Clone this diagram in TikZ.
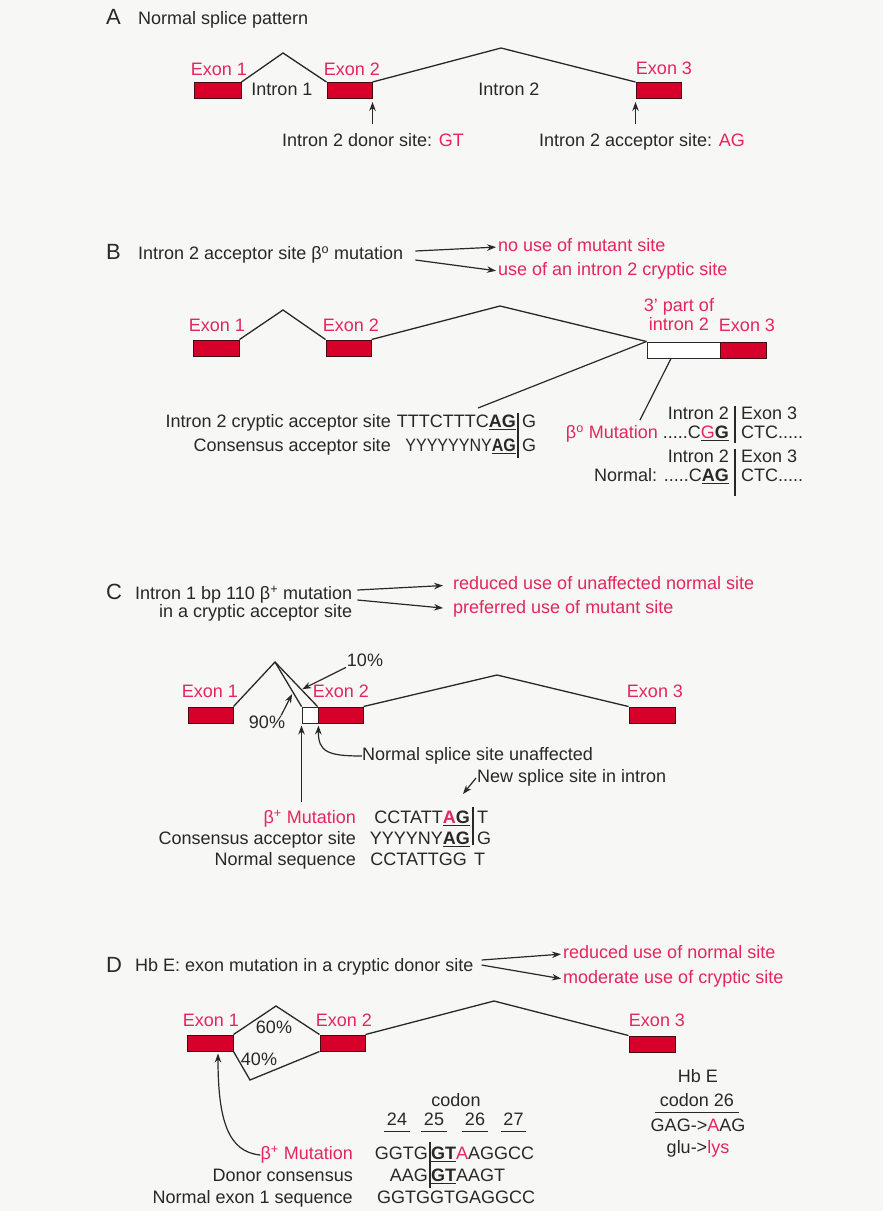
\documentclass[tikz,border=0pt]{standalone}
\usepackage{fontspec}
\usepackage{graphicx}
\setmainfont{Liberation Sans}
\usetikzlibrary{arrows.meta,calc}
\definecolor{ink}{RGB}{40,40,40}
\definecolor{hl}{RGB}{228,38,92}
\definecolor{exonfill}{RGB}{214,0,42}
\definecolor{exonedge}{RGB}{70,10,20}
\definecolor{paper}{RGB}{247,247,245}
\tikzset{
  txt/.style={inner sep=0pt, text height=13pt, text depth=4pt, text=ink, font=\fontsize{18}{20}\selectfont},
  hltxt/.style={txt, text=hl},
  panel/.style={txt, font=\fontsize{22}{24}\selectfont, anchor=west},
  exon/.style={draw=exonedge, fill=exonfill, line width=1pt, minimum height=16pt, minimum width=46pt, inner sep=0pt},
  openbox/.style={draw=ink, fill=white, line width=1pt, minimum height=16pt, inner sep=0pt},
  intron/.style={draw=ink, line width=1.3pt},
  arr/.style={draw=ink, line width=1.2pt, -{Stealth[length=9pt,width=6.5pt]}},
  bar/.style={draw=ink, line width=1.2pt},
}
\begin{document}
\begin{tikzpicture}[x=1pt,y=-1pt]
\fill[paper] (0,0) rectangle (883,1211);
\useasboundingbox (0,0) rectangle (883,1211);

% ---------- A: normal splice pattern
\node[panel] (lA) at (106,20) {A};
\node[txt,anchor=west] (tA) at (138,20) {Normal splice pattern};
\node[exon,minimum width=47pt] (e1A) at (217.5,90.5) {};
\node[exon,minimum width=45pt] (e2A) at (349.5,90.5) {};
\node[exon,minimum width=45pt] (e3A) at (658.5,90.5) {};
\node[hltxt] (x1A) at (219,71) {Exon 1};
\node[hltxt] (x2A) at (352,71) {Exon 2};
\node[hltxt] (x3A) at (664,70) {Exon 3};
\coordinate (pA1) at (283,53);
\coordinate (pA2) at (501,48);
\draw[intron] (e1A.north east) -- (pA1) -- (e2A.north west);
\draw[intron] (e2A.north east) -- (pA2) -- (e3A.north west);
\node[txt] (i1A) at (282,91) {Intron 1};
\node[txt] (i2A) at (509,91) {Intron 2};
\node[txt] (dA) at (373,142) {Intron 2 donor site: \textcolor{hl}{GT}};
\node[txt] (aA) at (642,142) {Intron 2 acceptor site: \textcolor{hl}{AG}};
\draw[arr, shorten <=9pt, shorten >=3pt] (e2A.south east |- dA.north) -- (e2A.south east);
\draw[arr, shorten <=9pt, shorten >=3pt] (e3A.south west |- aA.north) -- (e3A.south west);

% ---------- B: acceptor site mutation
\node[panel] (lB) at (106,255) {B};
\node[txt,anchor=west] (tB) at (138,255) {Intron 2 acceptor site β\textsuperscript{o} mutation};
\node[hltxt,anchor=west] (oB1) at (498,247) {no use of mutant site};
\node[hltxt,anchor=west] (oB2) at (498,271) {use of an intron 2 cryptic site};
\draw[arr, shorten >=2pt] ([xshift=12pt,yshift=4pt]tB.east) -- (oB1.west);
\draw[arr, shorten >=2pt] ([xshift=12pt,yshift=-5pt]tB.east) -- (oB2.west);

\node[exon] (e1B) at (216,348) {};
\node[exon,minimum width=45pt] (e2B) at (348.5,348) {};
\node[openbox,minimum width=73pt] (oBx) at (683.5,350) {};
\node[exon] (e3B) at (743,350) {};
\node[hltxt] (x1B) at (217,327) {Exon 1};
\node[hltxt] (x2B) at (351,327) {Exon 2};
\node[hltxt] (x3B) at (747,327) {Exon 3};
\node[hltxt] (q1B) at (679,307) {3' part of};
\node[hltxt] (q2B) at (679,326) {intron 2};
\coordinate (pB1) at (283,310);
\coordinate (pB2) at (500,306);
\draw[intron] (e1B.north east) -- (pB1) -- (e2B.north west);
\draw[intron] (e2B.north east) -- (pB2) -- (oBx.north west);

\node[txt,anchor=east] (sB1l) at (391,423) {Intron 2 cryptic acceptor site};
\node[txt,anchor=east] (sB2l) at (391,447) {Consensus acceptor site};
\node[txt,anchor=east] (sB1) at (516,423) {TTTCTTTC\underline{\textbf{AG}}};
\node[txt,anchor=west] (sB1r) at (522,423) {G};
\node[txt,anchor=east] (sB2) at (516,447) {\scalebox{0.89}[1]{YYYYYYNY\underline{\textbf{AG}}}};
\node[txt,anchor=west] (sB2r) at (522,447) {G};
\draw[bar] ([xshift=2pt,yshift=1.5pt]sB1.north east) -- ([xshift=2pt,yshift=-2.5pt]sB2.south east);

\node[txt,anchor=east] (rB1) at (729,415) {Intron 2};
\node[txt,anchor=west] (rB1r) at (741,415) {Exon 3};
\node[txt,anchor=east] (rB2) at (729,434) {\textcolor{hl}{β\textsuperscript{o} Mutation} .....C\underline{\textcolor{hl}{G}\textbf{G}}};
\node[txt,anchor=west] (rB2r) at (741,434) {CTC.....};
\node[txt,anchor=east] (rB3) at (729,458) {Intron 2};
\node[txt,anchor=west] (rB3r) at (741,458) {Exon 3};
\node[txt,anchor=east] (rB4) at (729,477) {Normal: .....C\underline{\textbf{AG}}};
\node[txt,anchor=west] (rB4r) at (741,477) {CTC.....};
\draw[bar] ([xshift=6pt]rB1.north east) -- ([xshift=6pt]rB2.south east);
\draw[bar] ([xshift=6pt]rB3.north east) -- ([xshift=6pt,yshift=-10pt]rB4.south east);

\coordinate (cB) at (478,408);
\coordinate (mBt) at (640,420);
\draw[intron, line width=1.2pt] (cB) -- (oBx.north west);
\draw[intron, line width=1.2pt] (mBt) -- ([xshift=-12.5pt]oBx.south);

% ---------- C: cryptic acceptor mutation in intron 1
\node[panel] (lC) at (106,595) {C};
\node[txt,anchor=west] (tC1) at (135,595) {Intron 1 bp 110 β\textsuperscript{+} mutation};
\node[txt,anchor=north east] (tC2) at ([yshift=-1pt]tC1.south east) {in a cryptic acceptor site};
\node[hltxt,anchor=west] (oC1) at (453,585) {reduced use of unaffected normal site};
\node[hltxt,anchor=west] (oC2) at (453,609) {preferred use of mutant site};
\draw[arr, shorten >=10pt] ([xshift=5pt,yshift=5pt]tC1.east) -- (oC1.west);
\draw[arr, shorten >=10pt] ([xshift=5pt,yshift=-5pt]tC1.east) -- (oC2.west);

\node[exon,minimum width=45pt] (e1C) at (210.5,715) {};
\node[openbox,minimum width=16pt] (obC) at (310,715) {};
\node[exon,minimum width=45pt] (e2C) at (340.5,715) {};
\node[exon] (e3C) at (652,715) {};
\node[hltxt] (x1C) at (210,693) {Exon 1};
\node[hltxt] (x2C) at (341,693) {Exon 2};
\node[hltxt] (x3C) at (655,693) {Exon 3};
\coordinate (pC1) at (275,662);
\coordinate (pC2) at (497,675);
\draw[intron] (e1C.north east) -- (pC1) -- (obC.north west);
\draw[intron] (pC1) -- (e2C.north west);
\draw[intron] (e2C.north east) -- (pC2) -- (e3C.north west);

\node[txt] (p10) at (365,662) {10\%};
\node[txt] (p90) at (267,724) {90\%};
\draw[arr, shorten <=1pt, shorten >=1pt] ([yshift=-5pt]p10.west) -- ($(pC1)!0.62!(e2C.north west)$);
\draw[arr, shorten >=2pt] ([xshift=-4pt]p90.north east) -- ($(pC1)!0.68!(obC.north west)$);

\node[txt,anchor=west] (ns) at (362,756) {Normal splice site unaffected};
\node[txt,anchor=west] (nsi) at (477,778) {New splice site in intron};
\node[hltxt,anchor=east] (mC) at (356,819) {β\textsuperscript{+} Mutation};
\draw[arr, shorten <=8pt, shorten >=2pt] (obC.south west |- mC.north) -- (obC.south west);
\draw[arr, shorten >=2pt] (ns.west) .. controls (328,756) and (318,752) .. (obC.south east);
\coordinate (tipC) at (463,794);
\draw[arr] ([xshift=-1pt]nsi.west) -- (tipC);

\node[txt,anchor=east] (sC1) at (470,819) {CCTATT\underline{\textbf{\textcolor{hl}{A}G}}};
\node[txt,anchor=west] (sC1r) at (477,819) {T};
\node[txt,anchor=east] (cC) at (356,840) {Consensus acceptor site};
\node[txt,anchor=east] (sC2) at (470,840) {YYYYNY\underline{\textbf{AG}}};
\node[txt,anchor=west] (sC2r) at (477,840) {G};
\node[txt,anchor=east] (nC) at (356,861) {Normal sequence};
\node[txt,anchor=east] (sC3) at (467,861) {CCTATTGG};
\node[txt,anchor=west] (sC3r) at (474,861) {T};
\draw[bar] ([xshift=3pt,yshift=3pt]sC1.north east) -- ([xshift=3pt,yshift=4pt]sC2.south east);

% ---------- D: exon mutation in a cryptic donor site
\node[panel] (lD) at (106,968) {D};
\node[txt,anchor=west] (tD) at (135,967) {Hb E: exon mutation in a cryptic donor site};
\node[hltxt,anchor=west] (oD1) at (563,954) {reduced use of normal site};
\node[hltxt,anchor=west] (oD2) at (563,979) {moderate use of cryptic site};
\draw[arr, shorten >=2pt] ([xshift=8pt,yshift=7pt]tD.east) -- (oD1.west);
\draw[arr, shorten >=2pt] ([xshift=8pt,yshift=2pt]tD.east) -- (oD2.west);

\node[exon] (e1D) at (210,1043) {};
\node[exon,minimum width=45pt] (e2D) at (342.5,1043) {};
\node[exon] (e3D) at (652,1044) {};
\node[hltxt] (x1D) at (211,1022) {Exon 1};
\node[hltxt] (x2D) at (344,1022) {Exon 2};
\node[hltxt] (x3D) at (657,1022) {Exon 3};
\coordinate (pD1) at (276,1006);
\coordinate (pD2) at (494,1001);
\coordinate (vD) at (250,1080);
\draw[intron] (e1D.north east) -- (pD1) -- (e2D.north west);
\draw[intron] (e1D.south east) -- (vD) -- (e2D.south west);
\draw[intron] (e2D.north east) -- (pD2) -- (e3D.north west);
\node[txt] (p60) at (274,1029) {60\%};
\node[txt] (p40) at (259,1061) {40\%};

\node[txt] (codon) at (456,1102) {codon};
\node[txt,minimum width=25pt] (c24) at (397,1121) {24};
\node[txt,minimum width=25pt] (c25) at (434,1121) {25};
\node[txt,minimum width=25pt] (c26) at (475,1121) {26};
\node[txt,minimum width=25pt] (c27) at (513.5,1121) {27};
\foreach \c in {c24,c25,c26,c27}
  \draw[bar, line width=1pt] ([yshift=-2pt]\c.south west) -- ([yshift=-2pt]\c.south east);

\node[hltxt,anchor=east] (mD) at (353,1155) {β\textsuperscript{+} Mutation};
\node[txt,anchor=east] (sD1) at (428,1155) {GGTG};
\node[txt,anchor=west] (sD1r) at (431,1155) {\underline{\textbf{GT}}\textcolor{hl}{A}AGGCC};
\node[txt,anchor=east] (dcD) at (353,1177) {Donor consensus};
\node[txt,anchor=east] (sD2) at (428,1177) {AAG};
\node[txt,anchor=west] (sD2r) at (431,1177) {\underline{\textbf{GT}}AAGT};
\node[txt,anchor=east] (neD) at (353,1199) {Normal exon 1 sequence};
\node[txt,anchor=west] (sD3) at (377,1199) {GGTGGTGAGGCC};
\draw[bar] ([xshift=2pt,yshift=4pt]sD1.north east) -- ([xshift=2pt,yshift=-2pt]sD2.south east);
\draw[arr, shorten >=2pt] (mD.west) .. controls (228,1152) and (218,1120) .. ([xshift=8pt]e1D.south);

\node[txt] (hbe) at (698,1078) {Hb E};
\node[txt,minimum width=83pt] (c26h) at (697,1102) {codon 26};
\draw[bar, line width=1pt] ([yshift=-2pt]c26h.south west) -- ([yshift=-2pt]c26h.south east);
\node[txt] (gag) at (698,1127) {GAG->\textcolor{hl}{A}AG};
\node[txt] (glu) at (698,1149) {glu->\textcolor{hl}{lys}};
\end{tikzpicture}
\end{document}
